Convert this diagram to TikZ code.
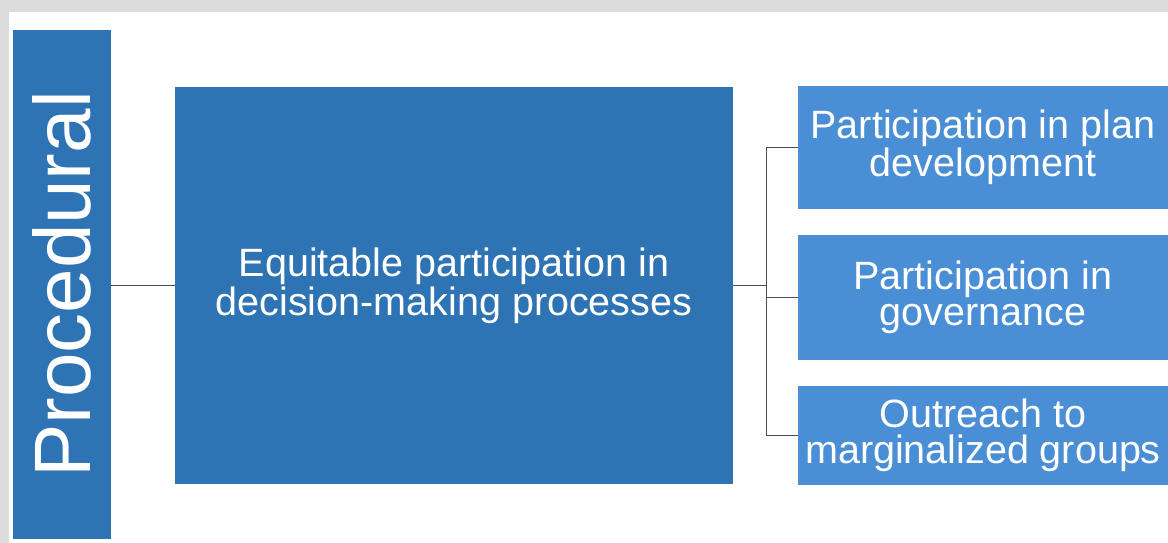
\documentclass[tikz,border=0pt]{standalone}
\usepackage{fontspec}
\setmainfont{Liberation Sans}
\definecolor{frame}{HTML}{DCDCDC}
\definecolor{deepblue}{HTML}{2E74B5}
\definecolor{lightblue}{HTML}{4A8FD6}
\definecolor{linkgray}{HTML}{44505E}
\begin{document}
\begin{tikzpicture}[x=1pt,y=1pt,
  box/.style={rectangle, inner sep=0pt, text=white, align=center},
  darkbox/.style={box, fill=deepblue},
  lightbox/.style={box, fill=lightblue, minimum width=370pt,
    font=\fontsize{39.5}{36}\selectfont},
  link/.style={draw=linkgray, line width=1.1pt}]
\useasboundingbox (0,0) rectangle (1168,-543);
\fill[white] (0,0) rectangle (1168,-543);
% grey frame along the top and left edges
\fill[frame] (0,0) rectangle (1168,-12);
\fill[frame] (0,0) rectangle (9,-543);

% category bar
\node[darkbox, rotate=90, minimum width=509pt, minimum height=98pt,
  font=\fontsize{80}{80}\selectfont] (proc) at (62,-284.5) {Procedural};

% principle
\node[darkbox, minimum width=558pt, minimum height=397pt,
  font=\fontsize{39.5}{39}\selectfont] (main) at (454,-285.5)
  {Equitable participation in\\decision-making processes};

% criteria
\node[lightbox, minimum height=123pt] (r1) at (983,-147.5)
  {Participation in plan\\development};
\node[lightbox, minimum height=125pt] (r2) at (983,-297.5)
  {Participation in\\governance};
\node[lightbox, minimum height=99pt] (r3) at (983,-435.5)
  {Outreach to\\marginalized groups};

% connectors
\draw[link] (main.west) -- (main.west -| proc.south);
\coordinate (hub) at ([xshift=33pt]main.east);
\draw[link] (main.east) -- (hub);
\draw[link] (r1.west) -- (hub |- r1.west) -- (hub |- r3.west) -- (r3.west);
\draw[link] (hub |- r2.west) -- (r2.west);
\end{tikzpicture}
\end{document}
